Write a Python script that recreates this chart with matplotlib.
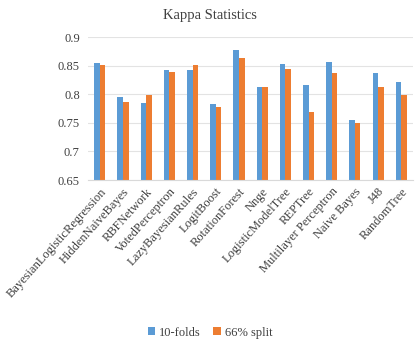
import numpy as np
import matplotlib
matplotlib.use('Agg')
import matplotlib.pyplot as plt

models = ['BayesianLogisticRegression', 'HiddenNaiveBayes', 'RBFNetwork',
          'VotedPerceptron', 'LazyBayesianRules', 'LogitBoost', 'RotationForest',
          'Nnge', 'LogisticModelTree', 'REPTree', 'Multilayer Perceptron',
          'Naive Bayes', 'J48', 'RandomTree']
folds10 = [0.855, 0.795, 0.785, 0.843, 0.843, 0.783, 0.877, 0.812, 0.853,
           0.816, 0.857, 0.755, 0.838, 0.822]
split66 = [0.852, 0.786, 0.799, 0.839, 0.851, 0.777, 0.863, 0.812, 0.844,
           0.769, 0.838, 0.750, 0.812, 0.799]

plt.rcParams['font.family'] = 'Liberation Serif'

fig = plt.figure(figsize=(4.2, 3.43), dpi=100)
ax = fig.add_axes([0.21, 0.475, 0.773, 0.417])
ax.set_axisbelow(True)

x = np.arange(len(models))
w = 0.24
ax.bar(x - w / 2, folds10, w, bottom=0, color='#5B9BD5', label='10-folds')
ax.bar(x + w / 2, split66, w, bottom=0, color='#ED7D31', label='66% split')

ax.set_ylim(0.65, 0.9)
ax.set_yticks([0.65, 0.7, 0.75, 0.8, 0.85, 0.9])
ax.set_yticklabels(['0.65', '0.7', '0.75', '0.8', '0.85', '0.9'])
ax.set_xlim(-0.5, len(models) - 0.5)
ax.set_xticks(x)
ax.set_xticklabels(models, rotation=48, ha='right', rotation_mode='anchor',
                   fontsize=9.5)
ax.grid(axis='y', color='#e3e3e3', linewidth=0.8)
ax.tick_params(axis='both', length=0, colors='#404040', labelsize=9)
ax.tick_params(axis='y', pad=6)
ax.tick_params(axis='x', pad=4)
for s in ['top', 'right', 'left']:
    ax.spines[s].set_visible(False)
ax.spines['bottom'].set_color('#d9d9d9')

fig.suptitle('Kappa Statistics', y=0.975, fontsize=10.5, color='#404040')
fig.legend(loc='lower center', bbox_to_anchor=(0.5, -0.02), ncol=2, frameon=False,
           fontsize=9, handlelength=0.6, handleheight=0.6, handletextpad=0.3,
           columnspacing=1.0, labelcolor='#404040')

fig.savefig('out.png', dpi=100)
